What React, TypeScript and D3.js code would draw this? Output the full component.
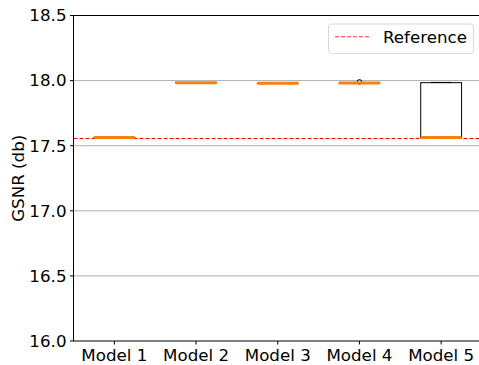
import React from "react";
import * as d3 from "d3";

const categories = ["Model 1", "Model 2", "Model 3", "Model 4", "Model 5"];
const medians = [17.563, 17.984, 17.98, 17.981, 17.563];
const q1s = [17.563, 17.984, 17.98, 17.981, 17.563];
const q3s = [17.563, 17.984, 17.98, 17.981, 17.984];
const whiskerLows = [17.563, 17.984, 17.98, 17.981, 17.563];
const whiskerHighs = [17.563, 17.984, 17.98, 17.981, 17.986];
const outliers: number[][] = [[], [], [], [17.99], []];
const referenceValue = 17.555;
const yTicks = [16.0, 16.5, 17.0, 17.5, 18.0, 18.5];
const yLabel = "GSNR (db)";
const legendLabel = "Reference";

const W = 479, H = 365;
const left = 73.5, right = 482, top = 15.5, bottom = 341;
const FONT = "'DejaVu Sans', sans-serif";
const FS = 16.7;

export default function App() {
  const x = d3.scaleLinear().domain([0.5, 5.5]).range([left, right]);
  const y = d3.scaleLinear().domain([16, 18.5]).range([bottom, top]);
  const bw = (x(1.25) - x(0.75));
  const cw = bw / 2;
  return (
    <svg width={W} height={H} style={{ position: "absolute", left: 0, top: 0 }} fontFamily={FONT}>
      <rect width={W} height={H} fill="white" />
      {yTicks.slice(1, -1).map((t) => (
        <line key={"g" + t} x1={left} x2={right} y1={y(t)} y2={y(t)} stroke="#b0b0b0" strokeWidth={1} />
      ))}
      <line x1={left} x2={right} y1={y(referenceValue)} y2={y(referenceValue)} stroke="#ff0000" strokeWidth={1.1} strokeDasharray="4,2" />
      {categories.map((c, i) => {
        const cx = x(i + 1);
        return (
          <g key={c}>
            <line x1={cx} x2={cx} y1={y(q3s[i])} y2={y(whiskerHighs[i])} stroke="black" strokeWidth={1} />
            <line x1={cx} x2={cx} y1={y(q1s[i])} y2={y(whiskerLows[i])} stroke="black" strokeWidth={1} />
            <line x1={cx - cw / 2} x2={cx + cw / 2} y1={y(whiskerHighs[i])} y2={y(whiskerHighs[i])} stroke="black" strokeWidth={1} />
            <line x1={cx - cw / 2} x2={cx + cw / 2} y1={y(whiskerLows[i])} y2={y(whiskerLows[i])} stroke="black" strokeWidth={1} />
            <rect x={cx - bw / 2} y={y(q3s[i])} width={bw} height={Math.max(0.01, y(q1s[i]) - y(q3s[i]))} fill="none" stroke="black" strokeWidth={1} />
            {outliers[i].map((o, j) => (
              <circle key={j} cx={cx} cy={y(o)} r={2.3} fill="none" stroke="black" strokeWidth={1} />
            ))}
            <line x1={cx - bw / 2} x2={cx + bw / 2} y1={y(medians[i])} y2={y(medians[i])} stroke="#ff7f0e" strokeWidth={3} />
          </g>
        );
      })}
      <line x1={left} x2={left} y1={top} y2={bottom} stroke="black" strokeWidth={1} />
      <line x1={left} x2={right} y1={bottom} y2={bottom} stroke="black" strokeWidth={1} />
      <line x1={left} x2={right} y1={top} y2={top} stroke="black" strokeWidth={1} />
      <line x1={right} x2={right} y1={top} y2={bottom} stroke="black" strokeWidth={1} />
      {yTicks.map((t) => (
        <g key={"t" + t}>
          <line x1={left - 3.5} x2={left} y1={y(t)} y2={y(t)} stroke="black" strokeWidth={1} />
          <text x={left - 7} y={y(t)} dy="0.35em" textAnchor="end" fontSize={FS} fill="black">{t.toFixed(1)}</text>
        </g>
      ))}
      {categories.map((c, i) => (
        <g key={"x" + c}>
          <line x1={x(i + 1)} x2={x(i + 1)} y1={bottom} y2={bottom + 3.5} stroke="black" strokeWidth={1} />
          <text x={x(i + 1)} y={bottom + 7} dy="0.76em" textAnchor="middle" fontSize={FS} fill="black">{c}</text>
        </g>
      ))}
      <text transform={`translate(18, ${(top + bottom) / 2}) rotate(-90)`} dy="0.35em" textAnchor="middle" fontSize={FS} fill="black">{yLabel}</text>
      <g>
        <rect x={328.5} y={24} width={145} height={29.5} rx={3} fill="white" fillOpacity={0.8} stroke="#d9d9d9" strokeWidth={1} />
        <line x1={335} x2={369} y1={36.8} y2={36.8} stroke="#ff3030" strokeWidth={1.1} strokeDasharray="4,2" />
        <text x={383} y={37.5} dy="0.35em" fontSize={FS} fill="black">{legendLabel}</text>
      </g>
    </svg>
  );
}
